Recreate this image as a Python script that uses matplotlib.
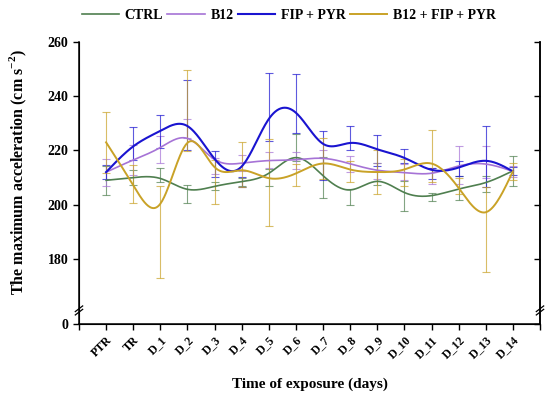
"""Maximum acceleration over exposure time, four treatment groups."""

import numpy as np
import matplotlib
matplotlib.use('Agg')
import matplotlib.pyplot as plt
from matplotlib.transforms import ScaledTranslation

plt.rcParams['font.family'] = ['Liberation Serif', 'DejaVu Serif']
plt.rcParams['font.weight'] = 'bold'
plt.rcParams['mathtext.fontset'] = 'custom'
plt.rcParams['mathtext.rm'] = 'Liberation Serif:bold'
plt.rcParams['mathtext.bf'] = 'Liberation Serif:bold'

categories = ['PTR', 'TR', 'D_1', 'D_2', 'D_3', 'D_4', 'D_5', 'D_6', 'D_7',
              'D_8', 'D_9', 'D_10', 'D_11', 'D_12', 'D_13', 'D_14']

ctrl_mean = [209, 210, 211, 204, 207, 208.5, 210, 221, 210.1, 202.8, 211.4, 203.2, 202.7, 206.1, 207.6, 212.5]
ctrl_err = [5.4, 2.7, 2.5, 3.4, 1.5, 1.5, 3, 5, 7.5, 3, 4, 5.4, 1.5, 4.4, 3, 5.5]

b12_mean = [212, 216.6, 220.5, 228, 214.2, 215.3, 216.5, 216.3, 217.8, 215.1, 212.3, 212, 210.7, 214.8, 215.7, 212.3]
b12_err = [5, 5.5, 5, 3.5, 3, 3, 3, 3, 2.5, 3, 3, 3, 3, 7, 6, 2]

fip_mean = [212, 222.5, 227, 233, 215, 208.4, 236, 237.3, 218.2, 224.6, 220, 218, 211.5, 213.2, 217.9, 212.3]
fip_err = [2.5, 6, 6, 13, 4.7, 1.7, 12.4, 10.8, 9, 4.5, 5.8, 2.5, 2, 2.8, 11.2, 1.5]

mix_mean = [223, 207.5, 190, 234.6, 208.4, 214.9, 208.2, 211, 217, 212.2, 212, 212, 218, 207, 191, 212.3]
mix_err = [11.2, 7, 17, 14.9, 8.2, 8.2, 16.2, 4, 7.5, 4, 8, 5, 9.7, 3, 15.7, 3.2]

y_ticks = [0, 180, 200, 220, 240, 260]
BREAK_LO, BREAK_HI = 170, 156  # values below 170 get squeezed into 156..170


def _forward(v):
    v = np.asarray(v, dtype=float)
    return np.where(v < BREAK_LO, BREAK_HI + v * (BREAK_LO - BREAK_HI) / BREAK_LO, v)


def _inverse(v):
    v = np.asarray(v, dtype=float)
    return np.where(v < BREAK_LO, (v - BREAK_HI) * BREAK_LO / (BREAK_LO - BREAK_HI), v)


def bspline(xs, ys, per_seg=30):
    """Uniform cubic B-spline with the data as control points, ends pinned (Origin style)."""
    p = np.column_stack([xs, ys]).astype(float)
    p = np.vstack([2 * p[0] - p[1], p, 2 * p[-1] - p[-2]])
    t = np.linspace(0, 1, per_seg)[:, None]
    b0 = (1 - t) ** 3 / 6
    b1 = (3 * t ** 3 - 6 * t ** 2 + 4) / 6
    b2 = (-3 * t ** 3 + 3 * t ** 2 + 3 * t + 1) / 6
    b3 = t ** 3 / 6
    segs = [b0 * p[i] + b1 * p[i + 1] + b2 * p[i + 2] + b3 * p[i + 3] for i in range(len(p) - 3)]
    curve = np.vstack(segs)
    return curve[:, 0], curve[:, 1]


series = [
    ('CTRL', ctrl_mean, ctrl_err, '#4f7f4f', 1.2),
    ('B12', b12_mean, b12_err, '#a673d6', 1.2),
    ('FIP + PYR', fip_mean, fip_err, '#1a14d0', 1.5),
    ('B12 + FIP + PYR', mix_mean, mix_err, '#c9a227', 1.4),
]

fig = plt.figure(figsize=(5.5, 3.99), dpi=100)
ax = fig.add_axes([0.1436, 0.188, 0.8382, 0.7067])
ax.set_yscale('function', functions=(_forward, _inverse))

x = np.arange(len(categories))
for label, mean, err, color, lw in series:
    ax.errorbar(x, mean, yerr=err, fmt='none', ecolor=color, elinewidth=0.8,
                capsize=3, capthick=0.8, alpha=0.7, zorder=2)
    sx, sy = bspline(x, mean)
    ax.plot(sx, sy, color=color, linewidth=lw, label=label, zorder=3)

ax.set_xlim(-1, len(categories))
ax.set_ylim(0, 260)
ax.set_yticks(y_ticks)
ax.set_xticks(np.arange(-1, len(categories) + 1))
ax.set_xticklabels([''] + categories + [''], rotation=45, ha='right',
                   rotation_mode='anchor', fontsize=8.5, fontweight='bold')
shift = ScaledTranslation(5 / 100, 0, fig.dpi_scale_trans)
for lbl in ax.get_xticklabels():
    lbl.set_transform(lbl.get_transform() + shift)
ax.tick_params(axis='y', labelsize=10, direction='out', length=4, width=1)
ax.tick_params(axis='x', direction='out', length=4, width=1, pad=3)
for lbl in ax.get_yticklabels():
    lbl.set_fontweight('bold')

ax.spines['top'].set_visible(False)
for side in ('left', 'right', 'bottom'):
    ax.spines[side].set_linewidth(1.1)

# right-hand axis: same ticks, pointing inward, no labels
ax2 = ax.twinx()
ax2.set_yscale('function', functions=(_forward, _inverse))
ax2.set_ylim(0, 260)
ax2.set_yticks(y_ticks)
ax2.set_yticklabels([])
ax2.tick_params(axis='y', direction='in', length=4, width=1)
ax2.spines['top'].set_visible(False)
ax2.spines['right'].set_linewidth(1.1)

# axis-break marks near the bottom of both spines
for xb in (0, 1):
    for dy in (0.0, 0.012):
        ax.plot([xb - 0.008, xb + 0.008], [0.032 + dy, 0.052 + dy], transform=ax.transAxes,
                color='black', linewidth=0.9, clip_on=False, zorder=5)

ax.set_ylabel('The maximum acceleration (cm s$^{-2}$)', fontsize=11.5, fontweight='bold')
ax.yaxis.set_label_coords(-0.108, 0.54)
ax.set_xlabel('Time of exposure (days)', fontsize=11, fontweight='bold', labelpad=12)

handles, labels = ax.get_legend_handles_labels()
fig.legend(handles, labels, loc='center', bbox_to_anchor=(0.525, 0.962), ncol=4,
           frameon=False, handlelength=2.7, handletextpad=0.4, columnspacing=0.3,
           prop={'weight': 'bold', 'size': 10})

fig.savefig('out.png', dpi=100)
